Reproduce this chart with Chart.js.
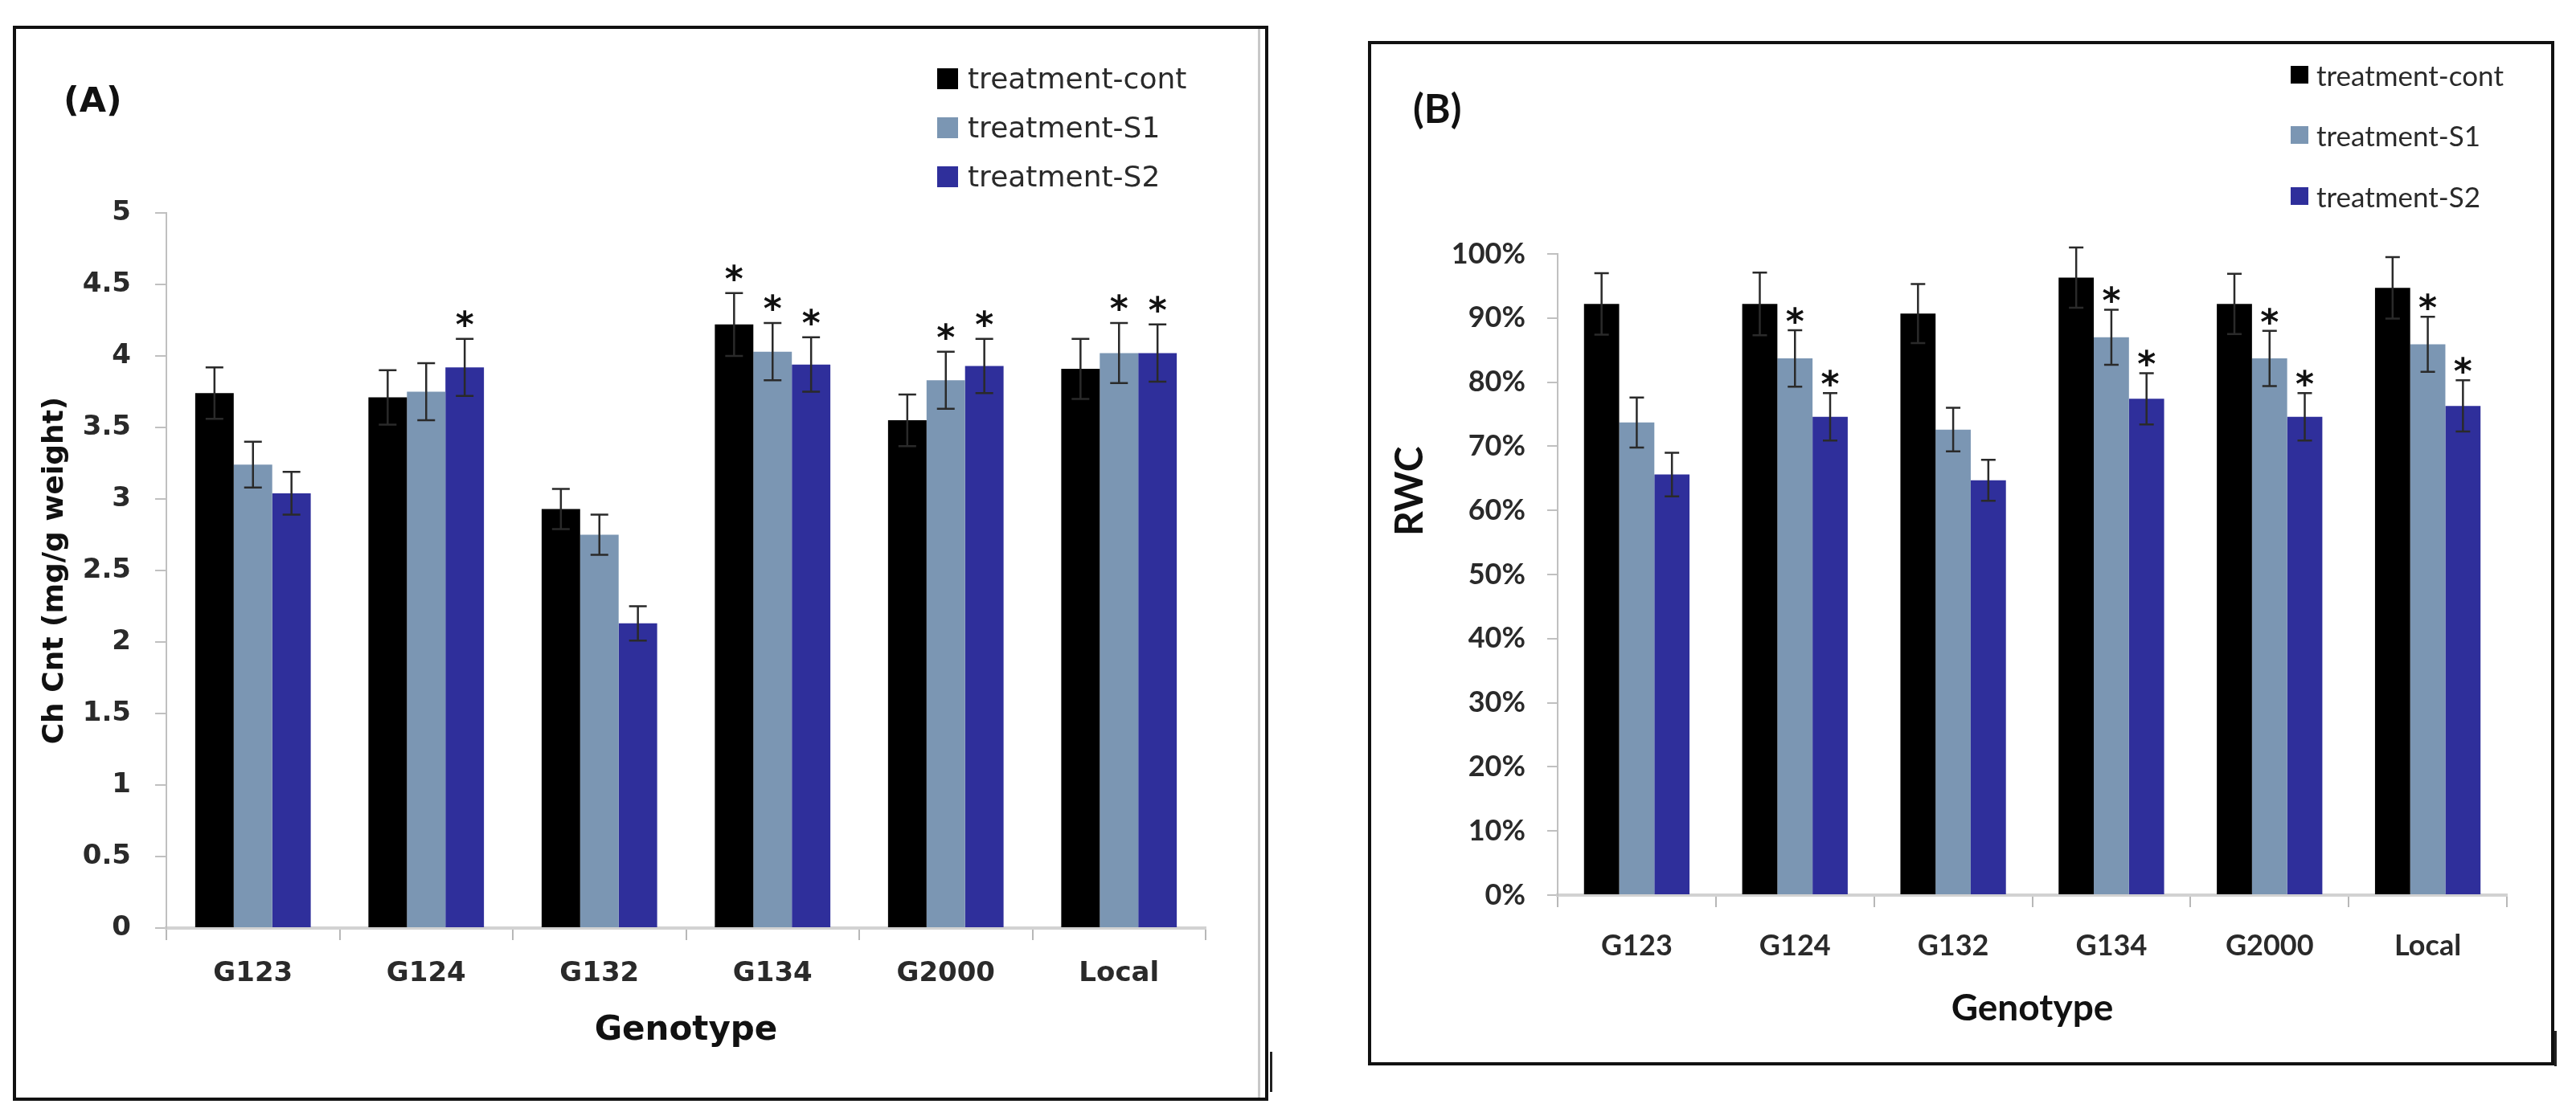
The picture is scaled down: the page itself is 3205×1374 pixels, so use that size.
<!DOCTYPE html>
<html>
<head>
<meta charset="utf-8">
<script src="https://cdn.jsdelivr.net/npm/chart.js@4.4.1/dist/chart.umd.min.js"></script>
<style>
  html, body { margin: 0; padding: 0; background: #fff; }
  body { width: 3205px; height: 1374px; position: relative; overflow: hidden; }
  .frame { position: absolute; border: 4px solid #111; box-sizing: border-box; }
  .rule { position: absolute; }
  canvas { position: absolute; top: 0; }
  .tag { position: absolute; font-weight: bold; color: #111; white-space: nowrap; }
  .legend { position: absolute; color: #2a2a2a; }
  .legend .row { display: flex; align-items: center; white-space: nowrap; }
  .legend .box { display: inline-block; flex: none; }
</style>
</head>
<body>
<div class="frame" style="left:16px;top:32px;width:1562px;height:1338px"></div>
<div class="rule" style="left:1565px;top:36px;width:3px;height:1330px;background:#c8c8c8"></div>
<div class="rule" style="left:1580px;top:1309px;width:3px;height:50px;background:#222"></div>
<div class="frame" style="left:1702px;top:51px;width:1476px;height:1275px"></div>
<div class="rule" style="left:3178px;top:1283px;width:3px;height:44px;background:#222"></div>

<canvas id="chartA" width="1600" height="1374" style="left:0px"></canvas>
<canvas id="chartB" width="1585" height="1374" style="left:1620px"></canvas>

<div class="tag" style="left:79px;top:98px;font-family:'DejaVu Sans';font-size:43px;line-height:52px">(A)</div>
<div class="tag" style="left:1758px;top:104px;font-family:Lato;font-size:50px;line-height:60px">(B)</div>
<div class="tag" id="rwcTitle" style="font-family:Lato;font-size:48px;line-height:56px">RWC</div>
<div class="legend" id="legendA"></div>
<div class="legend" id="legendB"></div>

<script>
// shared
var genotypes = ['G123', 'G124', 'G132', 'G134', 'G2000', 'Local'];
var seriesNames = ['treatment-cont', 'treatment-S1', 'treatment-S2'];
var seriesColors = ['#000000', '#7b96b3', '#2f2f9b'];

// (A) chlorophyll content, mg/g weight
var chlCont = [3.74, 3.71, 2.93, 4.22, 3.55, 3.91];
var chlS1 = [3.24, 3.75, 2.75, 4.03, 3.83, 4.02];
var chlS2 = [3.04, 3.92, 2.13, 3.94, 3.93, 4.02];
var chlErrCont = [0.18, 0.19, 0.14, 0.22, 0.18, 0.21];
var chlErrS1 = [0.16, 0.20, 0.14, 0.20, 0.20, 0.21];
var chlErrS2 = [0.15, 0.20, 0.12, 0.19, 0.19, 0.20];
var chlStarCont = [0, 0, 0, 1, 0, 0];
var chlStarS1 = [0, 0, 0, 1, 1, 1];
var chlStarS2 = [0, 1, 0, 1, 1, 1];

// (B) relative water content, %
var rwcCont = [92.2, 92.2, 90.7, 96.3, 92.2, 94.7];
var rwcS1 = [73.7, 83.7, 72.6, 87.0, 83.7, 85.9];
var rwcS2 = [65.6, 74.6, 64.7, 77.4, 74.6, 76.3];
var rwcErrCont = [4.8, 4.9, 4.6, 4.7, 4.7, 4.8];
var rwcErrS1 = [3.9, 4.4, 3.4, 4.3, 4.3, 4.3];
var rwcErrS2 = [3.4, 3.7, 3.2, 4.0, 3.7, 4.0];
var rwcStarCont = [0, 0, 0, 0, 0, 0];
var rwcStarS1 = [0, 1, 0, 1, 1, 1];
var rwcStarS2 = [0, 1, 0, 1, 1, 1];

// error bars + significance stars, placed with the chart's own scale
var errorBars = {
    id: 'errorBars',
    afterDatasetsDraw: function(chart, args, opts) {
        var ctx = chart.ctx;
        var yScale = chart.scales.y;
        chart.data.datasets.forEach(function(ds, d) {
            var meta = chart.getDatasetMeta(d);
            meta.data.forEach(function(bar, j) {
                var v = ds.data[j], e = ds.errors[j];
                var top = yScale.getPixelForValue(v + e);
                var bot = yScale.getPixelForValue(v - e);
                var half = opts.cap / 2;
                ctx.save();
                ctx.strokeStyle = opts.color;
                ctx.lineWidth = opts.width;
                ctx.beginPath();
                ctx.moveTo(bar.x, top); ctx.lineTo(bar.x, bot);
                ctx.moveTo(bar.x - half, top); ctx.lineTo(bar.x + half, top);
                ctx.moveTo(bar.x - half, bot); ctx.lineTo(bar.x + half, bot);
                ctx.stroke();
                if (ds.stars[j]) {
                    ctx.fillStyle = '#111';
                    ctx.font = opts.starFont;
                    ctx.textAlign = 'center';
                    ctx.textBaseline = 'alphabetic';
                    ctx.fillText('*', bar.x, top - opts.starGap);
                }
                ctx.restore();
            });
        });
    }
};

function makeSets(vals, errs, stars) {
    return vals.map(function(v, i) {
        return {
            label: seriesNames[i],
            data: v,
            errors: errs[i],
            stars: stars[i],
            backgroundColor: seriesColors[i],
            borderWidth: 0,
            categoryPercentage: 0.667,
            barPercentage: 1.0
        };
    });
}

function makeLegend(id, left, top, rowH, box, gap, font) {
    var el = document.getElementById(id);
    el.style.left = left + 'px';
    el.style.top = top + 'px';
    el.style.font = font;
    seriesNames.forEach(function(name, i) {
        var row = document.createElement('div');
        row.className = 'row';
        row.style.height = rowH + 'px';
        var b = document.createElement('span');
        b.className = 'box';
        b.style.width = box + 'px';
        b.style.height = box + 'px';
        b.style.background = seriesColors[i];
        b.style.marginRight = gap + 'px';
        var t = document.createElement('span');
        t.textContent = name;
        row.appendChild(b);
        row.appendChild(t);
        el.appendChild(row);
    });
}

makeLegend('legendA', 1166, 67, 61, 26, 12, '36px "DejaVu Sans"');
makeLegend('legendB', 2850, 55, 75.5, 22, 10, '35px Lato');

var rwc = document.getElementById('rwcTitle');
rwc.style.left = (1752 - 50) + 'px';
rwc.style.top = (617 - 28) + 'px';
rwc.style.width = '100px';
rwc.style.textAlign = 'center';
rwc.style.transform = 'rotate(-90deg)';

var fontA = 'DejaVu Sans';
var chartA = new Chart(document.getElementById('chartA').getContext('2d'), {
    type: 'bar',
    data: {
        labels: genotypes,
        datasets: makeSets([chlCont, chlS1, chlS2], [chlErrCont, chlErrS1, chlErrS2], [chlStarCont, chlStarS1, chlStarS2])
    },
    options: {
        responsive: false,
        animation: false,
        devicePixelRatio: 1,
        layout: { padding: { left: 20, right: 100, top: 265, bottom: 0 } },
        plugins: {
            legend: { display: false },
            tooltip: { enabled: false },
            errorBars: { color: '#2a2a2a', width: 2.5, cap: 22, starFont: 'bold 44px "DejaVu Sans"', starGap: 3 }
        },
        scales: {
            x: {
                grid: { drawOnChartArea: false, tickLength: 15, color: '#b8b8b8', lineWidth: 2 },
                border: { color: '#d2d2d2', width: 4 },
                ticks: { font: { family: fontA, weight: 'bold', size: 34 }, color: '#2a2a2a', padding: 22 },
                title: { display: true, text: 'Genotype', color: '#111', font: { family: fontA, weight: 'bold', size: 42 }, padding: { top: 0, bottom: 66 } },
                afterFit: function(s) { s.height = 1374 - 1155; }
            },
            y: {
                min: 0,
                max: 5,
                ticks: { stepSize: 0.5, font: { family: fontA, weight: 'bold', size: 34 }, color: '#2a2a2a', padding: 30,
                    callback: function(v) { return String(Math.round(v * 10) / 10); } },
                grid: { drawOnChartArea: false, tickLength: 14, color: '#c0c0c0', lineWidth: 2 },
                border: { color: '#c0c0c0', width: 2 },
                title: { display: true, text: 'Ch Cnt (mg/g weight)', color: '#111', font: { family: fontA, weight: 'bold', size: 36 }, padding: { top: 27, bottom: 0 } },
                afterFit: function(s) { s.width = 187; }
            }
        }
    },
    plugins: [errorBars]
});

var fontB = 'Lato';
var chartB = new Chart(document.getElementById('chartB').getContext('2d'), {
    type: 'bar',
    data: {
        labels: genotypes,
        datasets: makeSets([rwcCont, rwcS1, rwcS2], [rwcErrCont, rwcErrS1, rwcErrS2], [rwcStarCont, rwcStarS1, rwcStarS2])
    },
    options: {
        responsive: false,
        animation: false,
        devicePixelRatio: 1,
        layout: { padding: { left: 20, right: 86, top: 316, bottom: 0 } },
        plugins: {
            legend: { display: false },
            tooltip: { enabled: false },
            errorBars: { color: '#2a2a2a', width: 2.5, cap: 18, starFont: 'bold 44px "DejaVu Sans"', starGap: -4 }
        },
        scales: {
            x: {
                grid: { drawOnChartArea: false, tickLength: 15, color: '#b8b8b8', lineWidth: 2 },
                border: { color: '#d2d2d2', width: 4 },
                ticks: { font: { family: fontB, weight: 'bold', size: 36 }, color: '#2a2a2a', padding: 27 },
                title: { display: true, text: 'Genotype', color: '#111', font: { family: fontB, weight: 'bold', size: 46 }, padding: { top: 0, bottom: 91 } },
                afterFit: function(s) { s.height = 1374 - 1114; }
            },
            y: {
                min: 0,
                max: 100,
                ticks: { stepSize: 10, font: { family: fontB, weight: 'bold', size: 36 }, color: '#2a2a2a', padding: 27,
                    callback: function(v) { return v + '%'; } },
                grid: { drawOnChartArea: false, tickLength: 13, color: '#c0c0c0', lineWidth: 2 },
                border: { color: '#c0c0c0', width: 2 },
                afterFit: function(s) { s.width = 298; }
            }
        }
    },
    plugins: [errorBars]
});
</script>
</body>
</html>
